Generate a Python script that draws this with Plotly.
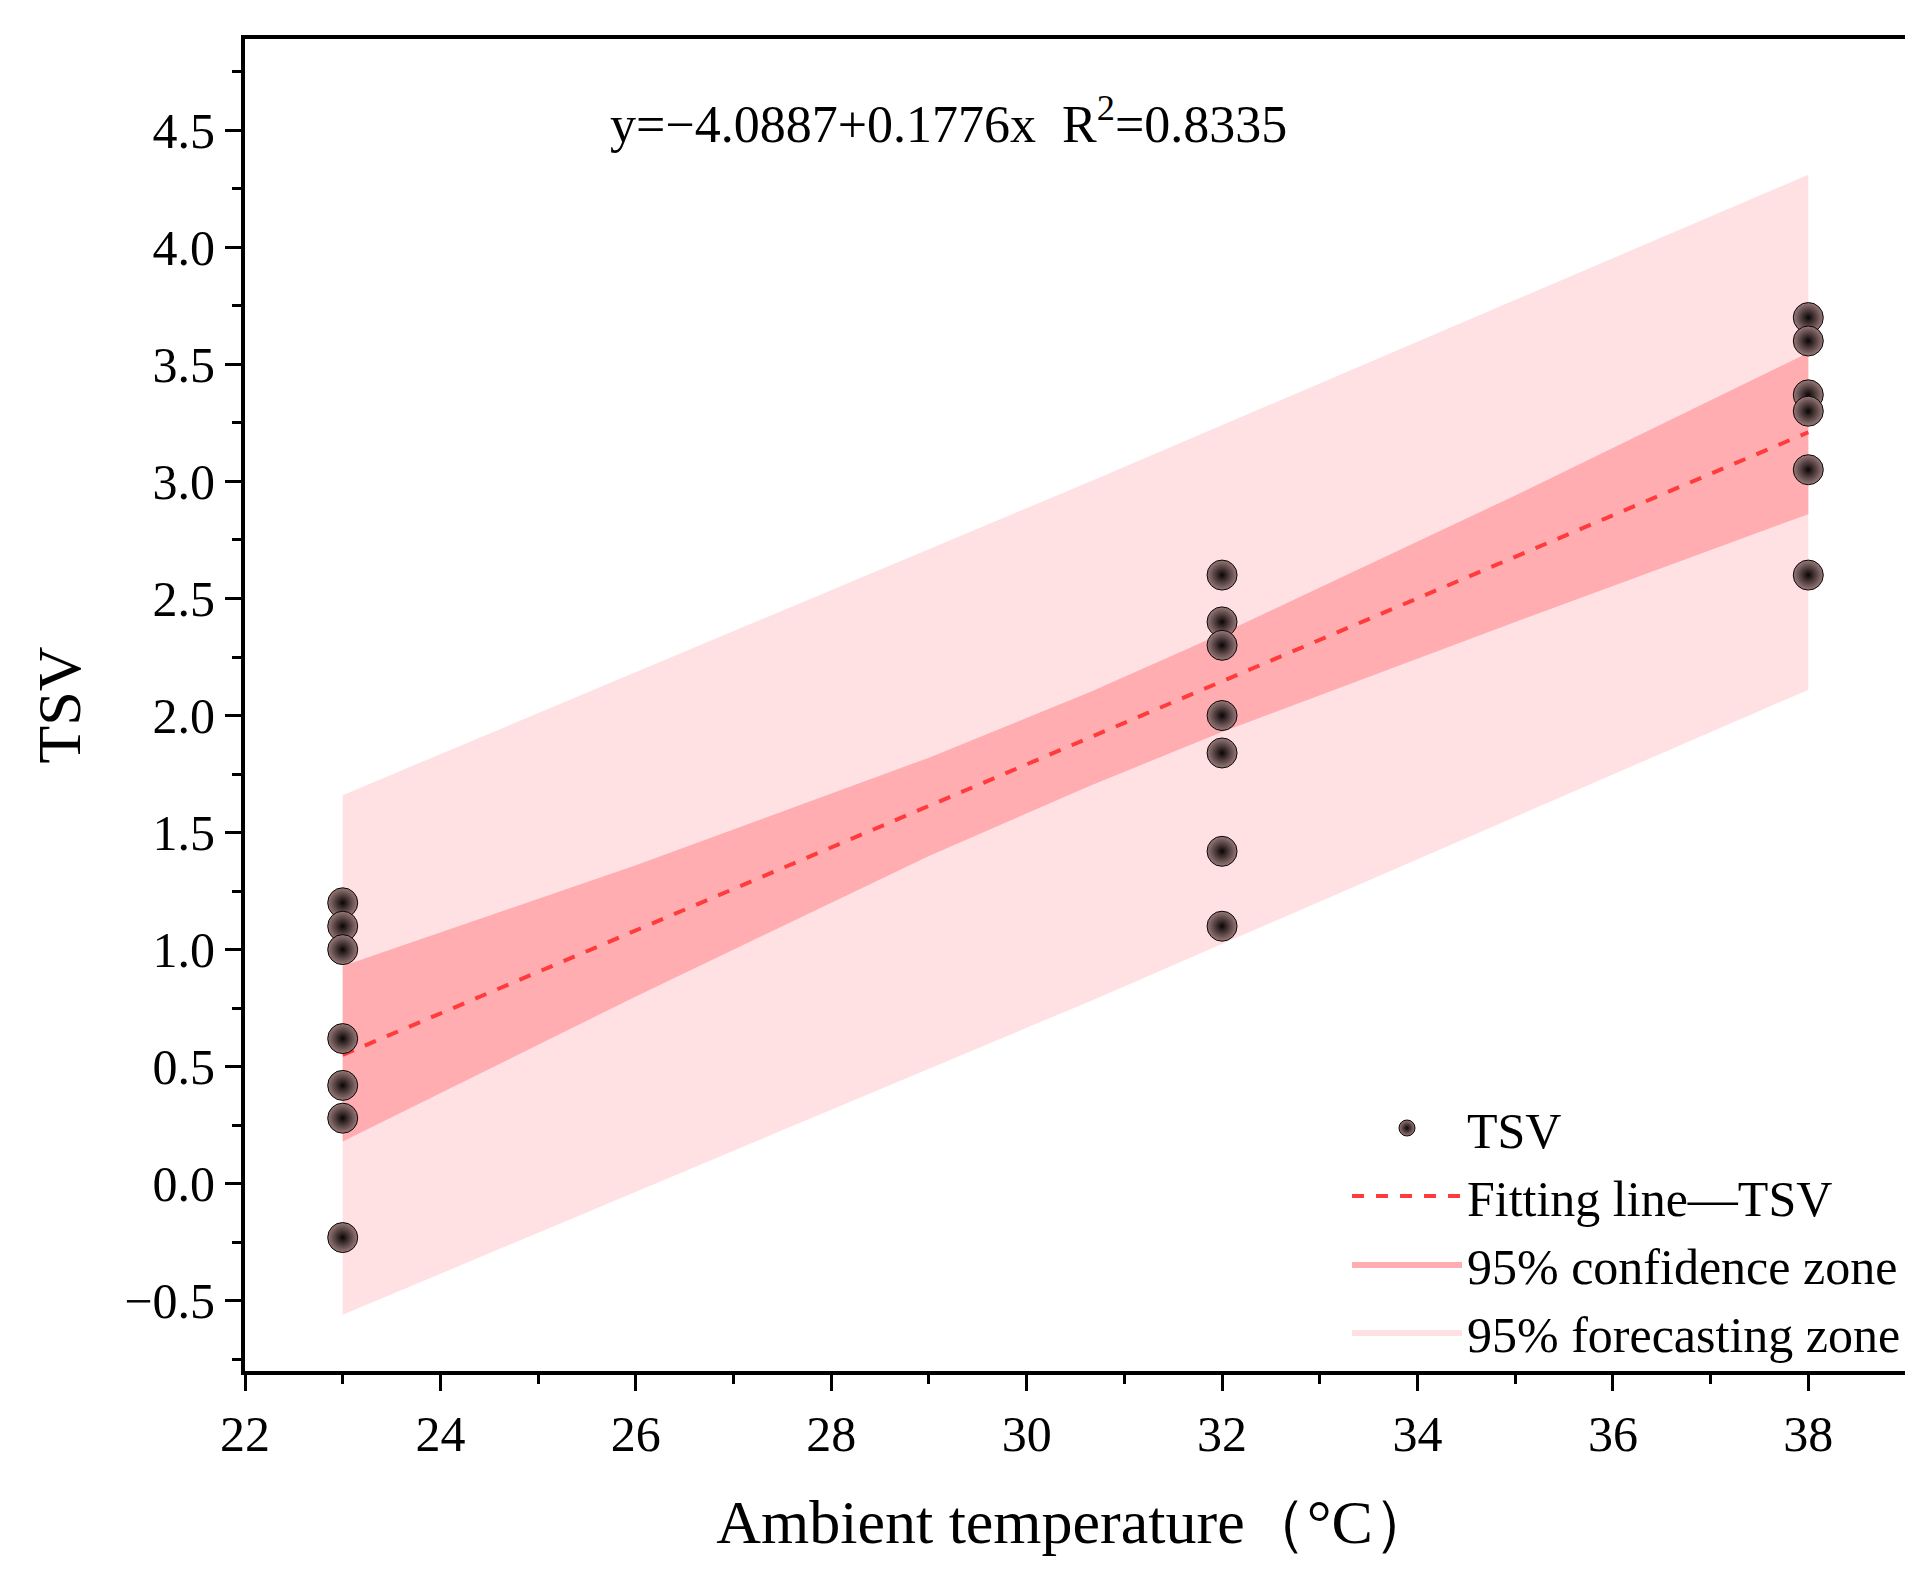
import plotly.graph_objects as go

# measured TSV votes
x23 = [23] * 7
y23 = [1.2, 1.1, 1.0, 0.62, 0.42, 0.28, -0.23]
x32 = [32] * 7
y32 = [2.6, 2.4, 2.3, 2.0, 1.84, 1.42, 1.1]
x38 = [38] * 6
y38 = [3.7, 3.6, 3.37, 3.3, 3.05, 2.6]

# fitted line end points
fit_x = [23, 38]
fit_y = [0.55, 3.21]

# 95% confidence band
conf_x = [23, 26, 29, 30.65, 32, 35, 38]
conf_lo = [0.18, 0.80, 1.40, 1.70, 1.93, 2.40, 2.86]
conf_hi = [0.93, 1.36, 1.82, 2.10, 2.35, 2.94, 3.55]

# 95% prediction band
pred_x = [23, 30.65, 38]
pred_lo = [-0.56, 0.78, 2.11]
pred_hi = [1.66, 3.00, 4.31]

FONT = "Liberation Serif"

fig = go.Figure()

fig.add_trace(go.Scatter(x=pred_x, y=pred_lo, mode="lines", line=dict(width=0),
                         showlegend=False, hoverinfo="skip"))
fig.add_trace(go.Scatter(x=pred_x, y=pred_hi, mode="lines", line=dict(width=0),
                         fill="tonexty", fillcolor="#ffe1e4",
                         name="95% forecasting zone", legendrank=4))
fig.add_trace(go.Scatter(x=conf_x, y=conf_lo, mode="lines", line=dict(width=0),
                         showlegend=False, hoverinfo="skip"))
fig.add_trace(go.Scatter(x=conf_x, y=conf_hi, mode="lines", line=dict(width=0),
                         fill="tonexty", fillcolor="#ffadb1",
                         name="95% confidence zone", legendrank=3))

fig.add_trace(go.Scatter(x=fit_x, y=fit_y, mode="lines",
                         line=dict(color="#ff3b3b", width=4, dash="dash"),
                         name="Fitting line\u2014TSV", legendrank=2))

fig.add_trace(go.Scatter(x=x23 + x32 + x38, y=y23 + y32 + y38, mode="markers",
                         marker=dict(size=30, color="#9a7a7a",
                                     gradient=dict(type="radial", color="#0a0505"),
                                     line=dict(width=1, color="#0a0505")),
                         name="TSV", legendrank=1))

fig.add_annotation(x=29.2, y=4.54, xref="x", yref="y", showarrow=False,
                   text="y=\u22124.0887+0.1776x  R<sup>2</sup>=0.8335",
                   font=dict(family=FONT, size=52, color="black"))

axis_common = dict(showgrid=False, zeroline=False, showline=True, linecolor="black",
                   linewidth=4, mirror=True, ticks="outside", tickwidth=3,
                   ticklen=16, tickcolor="black",
                   tickfont=dict(family=FONT, size=50, color="black"))

fig.update_xaxes(range=[22, 39], dtick=2, tick0=22,
                 minor=dict(dtick=1, ticks="outside", ticklen=9, tickwidth=3, tickcolor="black"),
                 title=dict(text="Ambient temperature\uff08\u00b0C\uff09",
                            font=dict(family=FONT, size=62, color="black"), standoff=40),
                 **axis_common)
fig.update_yaxes(range=[-0.8, 4.89], dtick=0.5, tick0=0, tickformat=".1f",
                 minor=dict(dtick=0.25, ticks="outside", ticklen=9, tickwidth=3, tickcolor="black"),
                 title=dict(text="TSV", font=dict(family=FONT, size=62, color="black"),
                            standoff=25),
                 **axis_common)

fig.update_layout(width=1913, height=1589,
                  margin=dict(l=237, r=15, t=31, b=226),
                  plot_bgcolor="white", paper_bgcolor="white",
                  legend=dict(x=1.0, y=0.0, xanchor="right", yanchor="bottom",
                              bgcolor="rgba(0,0,0,0)", itemwidth=110,
                              traceorder="normal",
                              font=dict(family=FONT, size=50, color="black"),
                              tracegroupgap=0))

fig.write_html("out.html")
